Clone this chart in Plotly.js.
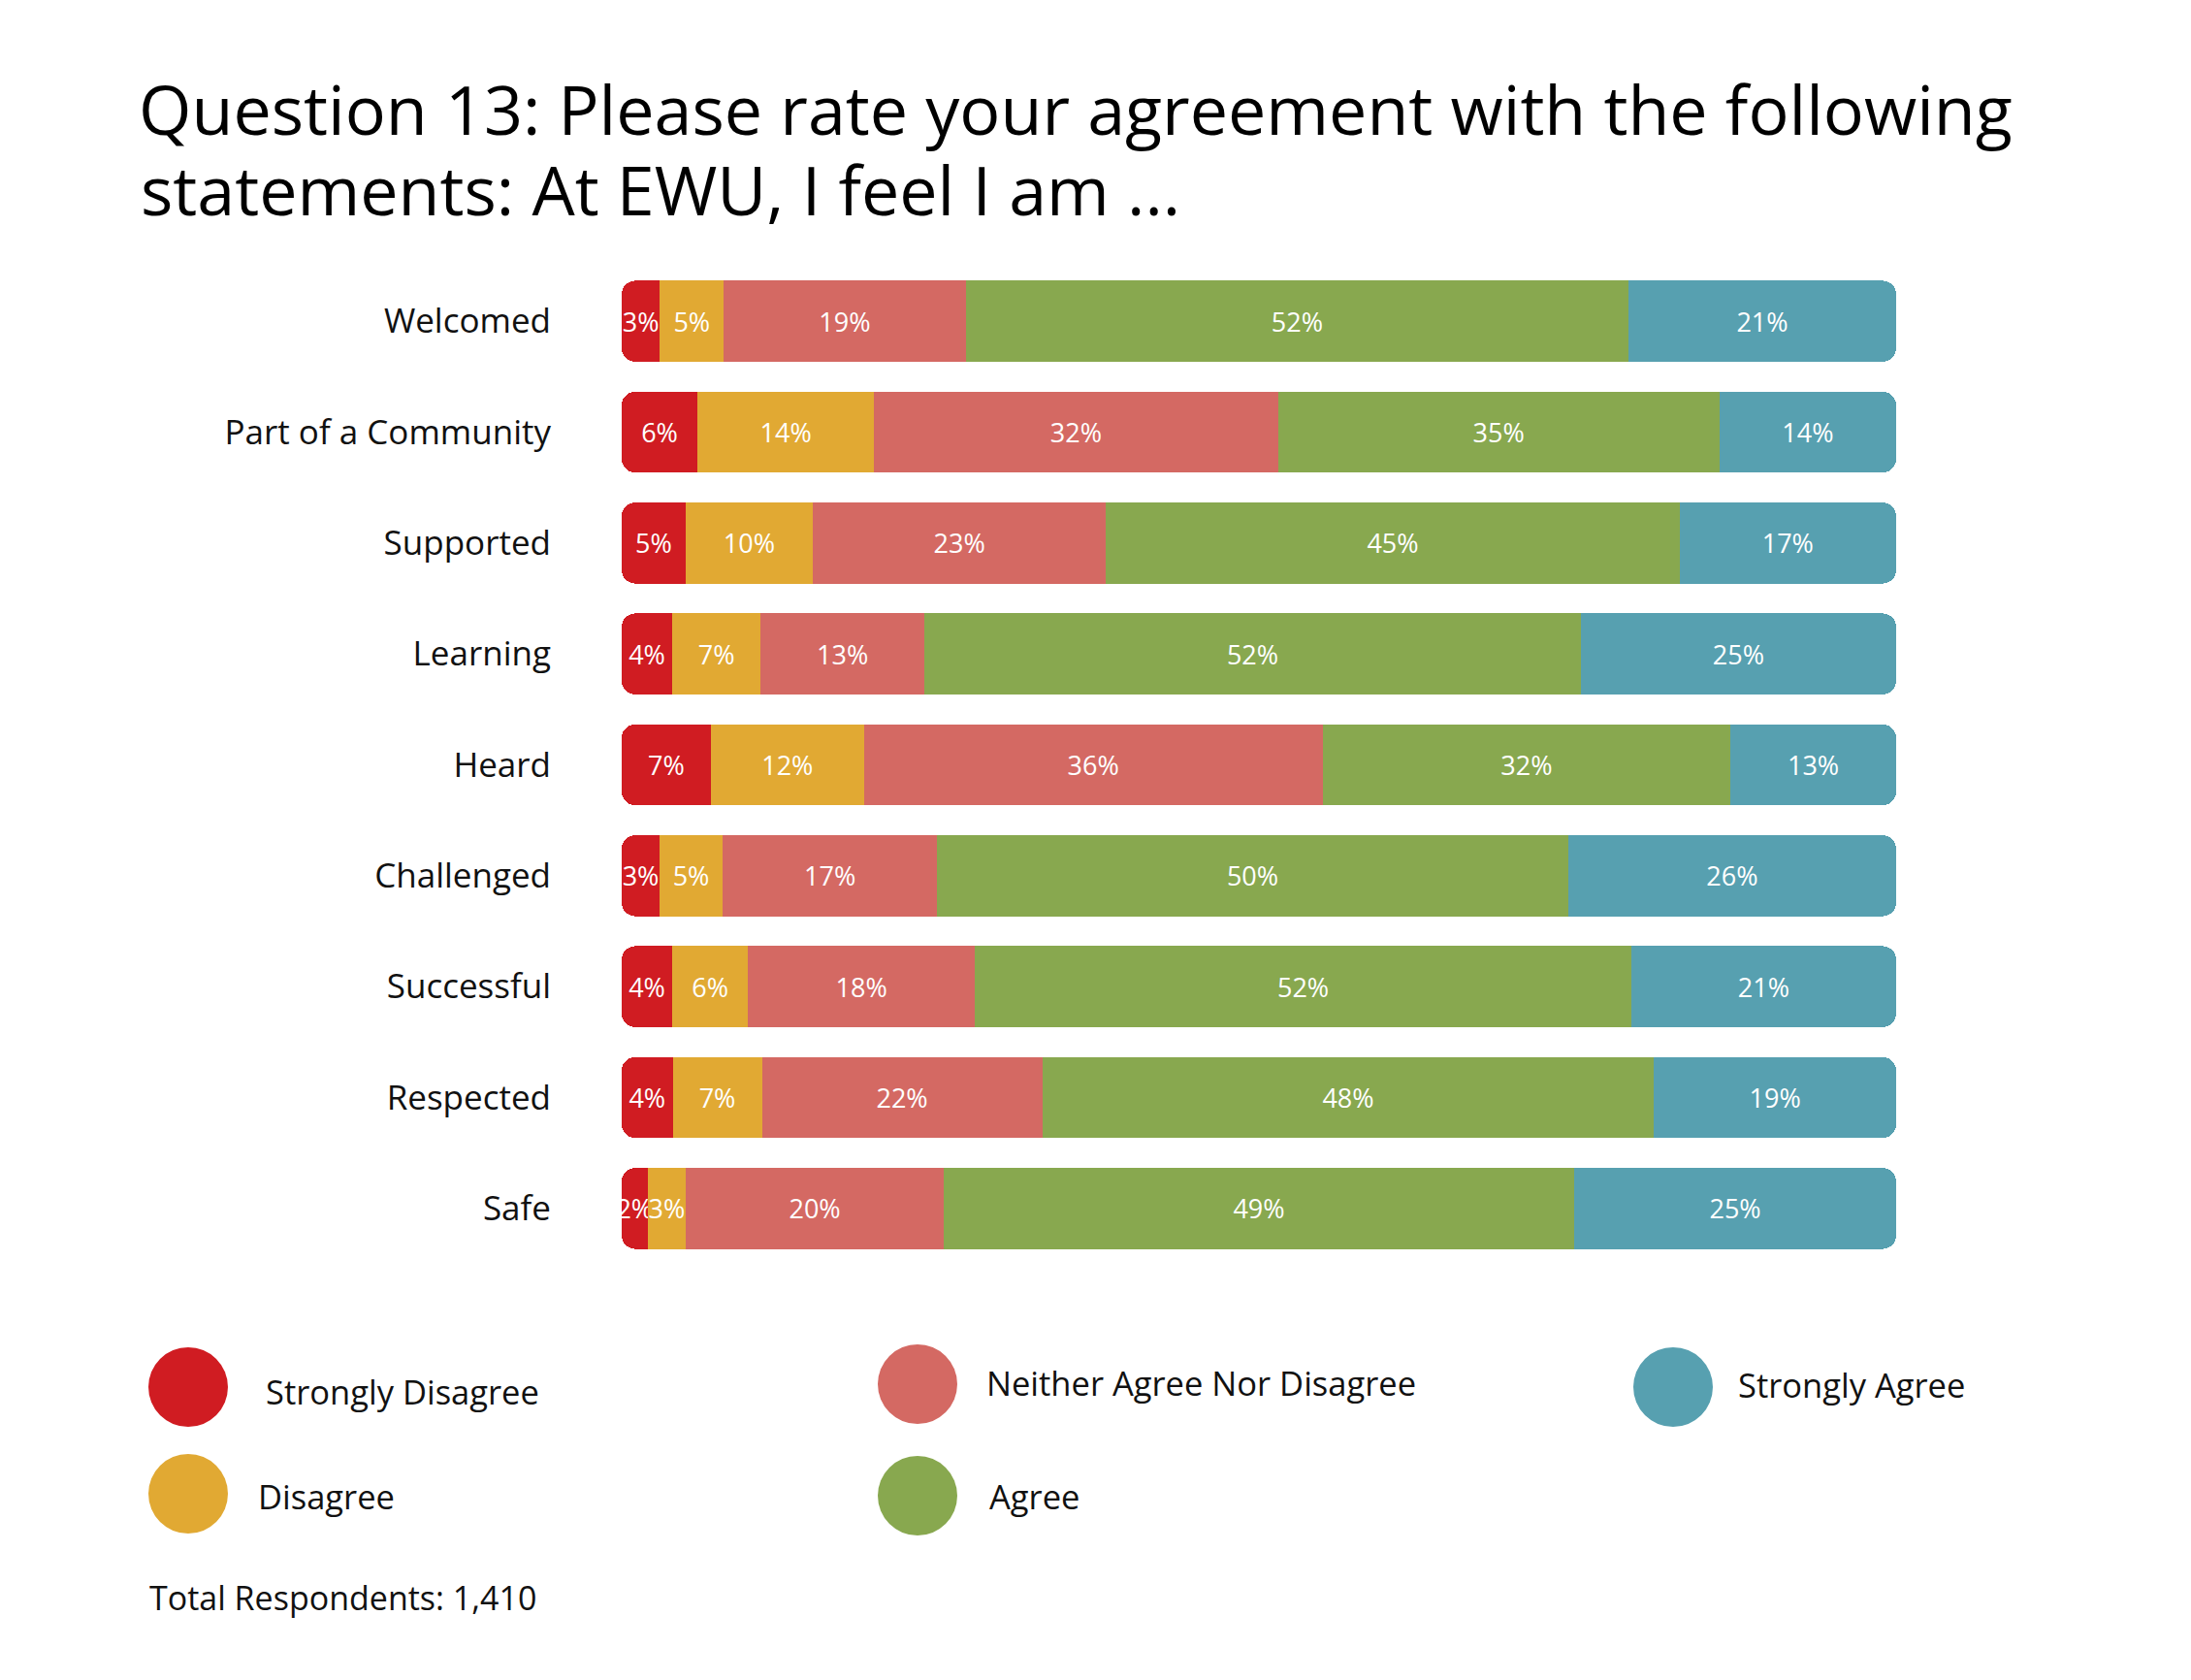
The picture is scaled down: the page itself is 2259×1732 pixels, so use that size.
<!DOCTYPE html>
<html>
<head>
<meta charset="utf-8">
<script src="https://cdn.plot.ly/plotly-3.0.1.min.js"></script>
<style>html,body{margin:0;padding:0;background:#fff;}#chart{width:2259px;height:1732px;}</style>
</head>
<body>
<div id="chart"></div>
<script>
// ---- Data ----
const categories = ["Welcomed", "Part of a Community", "Supported", "Learning", "Heard", "Challenged", "Successful", "Respected", "Safe"];
const seriesNames = ["Strongly Disagree", "Disagree", "Neither Agree Nor Disagree", "Agree", "Strongly Agree"];
const stronglyDisagree = [3, 6, 5, 4, 7, 3, 4, 4, 2];
const disagree         = [5, 14, 10, 7, 12, 5, 6, 7, 3];
const neither          = [19, 32, 23, 13, 36, 17, 18, 22, 20];
const agree            = [52, 35, 45, 52, 32, 50, 52, 48, 49];
const stronglyAgree    = [21, 14, 17, 25, 13, 26, 21, 19, 25];
const titleLine1 = "Question 13: Please rate your agreement with the following";
const titleLine2 = "statements: At EWU, I feel I am ...";
const footnote = "Total Respondents: 1,410";

// ---- Styles ----
const colors = ["#D01C22", "#E1A933", "#D46963", "#88A84F", "#57A0B0"];
const FONT = "'Open Sans', Lato, sans-serif";
const W = 2259, H = 1732;
const M = {l: 641, r: 304, t: 274, b: 429};
const PW = W - M.l - M.r, PH = H - M.t - M.b;
const px = x => (x - M.l) / PW;
const py = y => (H - M.b - y) / PH;
const RADIUS = 14;

const seriesValues = [stronglyDisagree, disagree, neither, agree, stronglyAgree];
// each row is scaled to a full 100% bar (published percentages are rounded)
const rowSums = categories.map((_, j) => seriesValues.reduce((s, arr) => s + arr[j], 0));
const normalized = seriesValues.map(arr => arr.map((v, j) => v / rowSums[j] * 100));

const textStyle = {family: FONT, size: 27, color: "#ffffff"};
const traces = [];
// Underneath (axis x: -100 at left edge .. 0 at right edge): a transparent remainder,
// then the Strongly Disagree segment whose outer end is the rounded left end of the bar.
traces.push({
  type: "bar", orientation: "h", name: "remainder",
  xaxis: "x", yaxis: "y",
  y: categories,
  x: normalized[0].map(v => -(100 - v)),
  textposition: "none",
  marker: {color: "rgba(0,0,0,0)", line: {width: 0}},
  hoverinfo: "skip"
});
traces.push({
  type: "bar", orientation: "h", name: seriesNames[0] + " (fill)",
  xaxis: "x", yaxis: "y",
  y: categories,
  x: normalized[0].map(v => -v),
  textposition: "none",
  marker: {color: colors[0], line: {width: 0}},
  hoverinfo: "skip"
});
// On top (axis x2: 0..100): the full stack; Strongly Disagree is transparent here so the
// rounded fill underneath shows, but it carries its labels.
seriesValues.forEach((vals, i) => traces.push({
  type: "bar",
  orientation: "h",
  name: seriesNames[i],
  xaxis: "x2", yaxis: "y",
  y: categories,
  x: normalized[i],
  text: vals.map(v => v + "%"),
  textposition: "inside",
  insidetextanchor: "middle",
  textangle: 0,
  constraintext: "none",
  textfont: textStyle,
  marker: {color: i === 0 ? "rgba(0,0,0,0)" : colors[i], line: {width: 0}},
  hoverinfo: "name+text"
}));

// Legend (custom, large circles)
const legendPos = [
  {cx: 194, cy: 1430, tx: 272, ty: 1435},
  {cx: 194, cy: 1540, tx: 264, ty: 1542},
  {cx: 946, cy: 1427, tx: 1015, ty: 1425},
  {cx: 946, cy: 1542, tx: 1018, ty: 1542},
  {cx: 1725, cy: 1430, tx: 1790, ty: 1427}
];
const R = 41;
const shapes = legendPos.map((p, i) => ({
  type: "circle", xref: "paper", yref: "paper",
  x0: px(p.cx - R), x1: px(p.cx + R), y0: py(p.cy + R), y1: py(p.cy - R),
  fillcolor: colors[i], line: {width: 0}
}));
const annotations = legendPos.map((p, i) => ({
  xref: "paper", yref: "paper", x: px(p.tx), y: py(p.ty),
  xanchor: "left", yanchor: "middle", showarrow: false,
  text: seriesNames[i], font: {family: FONT, size: 34.5, color: "#111"}
}));
annotations.push({
  xref: "paper", yref: "paper", x: px(152), y: py(1647),
  xanchor: "left", yanchor: "middle", showarrow: false,
  text: footnote, font: {family: FONT, size: 34, color: "#111"}
});
annotations.push({
  xref: "paper", yref: "paper", x: px(143), y: py(195),
  xanchor: "left", yanchor: "middle", showarrow: false,
  text: titleLine2, font: {family: FONT, size: 70, color: "#000"}
});

const layout = {
  width: W, height: H,
  paper_bgcolor: "#fff", plot_bgcolor: "rgba(0,0,0,0)",
  margin: M,
  barmode: "stack",
  bargap: 0.27,
  barcornerradius: RADIUS,
  showlegend: false,
  title: {
    text: titleLine1,
    font: {family: FONT, size: 70, color: "#000"},
    xref: "container", yref: "container",
    x: 143 / W, xanchor: "left",
    y: 1 - 114 / H, yanchor: "middle"
  },
  xaxis: {range: [-100, 0], visible: false, fixedrange: true},
  xaxis2: {range: [0, 100], visible: false, fixedrange: true, overlaying: "x"},
  yaxis: {
    type: "category", autorange: "reversed",
    showgrid: false, zeroline: false, showline: false,
    ticks: "", ticklabelstandoff: 72,
    tickfont: {family: FONT, size: 35, color: "#111"}
  },
  shapes: shapes,
  annotations: annotations,
  font: {family: FONT}
};

Plotly.newPlot("chart", traces, layout, {displayModeBar: false, staticPlot: true});
</script>
</body>
</html>
